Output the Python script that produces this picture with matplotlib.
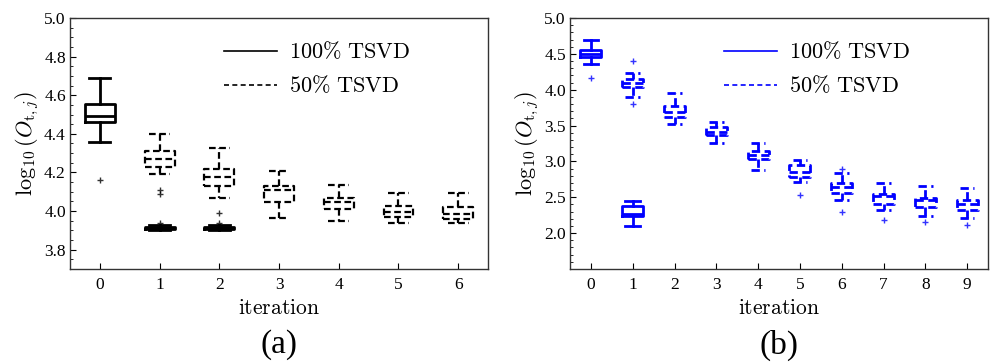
import matplotlib
matplotlib.use("Agg")
import matplotlib.pyplot as plt
from matplotlib.lines import Line2D
from matplotlib.ticker import MultipleLocator, FormatStrFormatter

plt.rcParams["font.family"] = ["Liberation Serif", "DejaVu Serif"]
plt.rcParams["mathtext.fontset"] = "cm"

# ---- panel (a): box statistics per iteration ----
a_full_pos = [0, 1, 2]
a_full_lo = [4.36, 3.900, 3.900]
a_full_q1 = [4.46, 3.908, 3.908]
a_full_med = [4.49, 3.914, 3.914]
a_full_q3 = [4.555, 3.920, 3.920]
a_full_hi = [4.69, 3.928, 3.928]
a_full_fliers = [[4.16], [3.94], [3.94]]

a_half_pos = [1, 2, 3, 4, 5, 6]
a_half_lo = [4.19, 4.07, 3.962, 3.948, 3.939, 3.939]
a_half_q1 = [4.23, 4.128, 4.045, 4.009, 3.967, 3.958]
a_half_med = [4.27, 4.176, 4.11, 4.049, 3.996, 3.983]
a_half_q3 = [4.31, 4.218, 4.132, 4.066, 4.028, 4.019]
a_half_hi = [4.40, 4.325, 4.209, 4.136, 4.096, 4.092]
a_half_fliers = [[4.09, 4.11], [3.99], [], [], [], []]

a_yticks = [3.8, 4.0, 4.2, 4.4, 4.6, 4.8, 5.0]

# ---- panel (b) ----
b_full_pos = [0, 1]
b_full_lo = [4.36, 2.10]
b_full_q1 = [4.455, 2.235]
b_full_med = [4.495, 2.27]
b_full_q3 = [4.555, 2.38]
b_full_hi = [4.695, 2.455]
b_full_fliers = [[4.16], []]

b_half_pos = [1, 2, 3, 4, 5, 6, 7, 8, 9]
b_half_lo = [3.90, 3.52, 3.26, 2.876, 2.713, 2.456, 2.326, 2.246, 2.214]
b_half_q1 = [4.034, 3.62, 3.365, 3.04, 2.783, 2.556, 2.41, 2.36, 2.326]
b_half_med = [4.09, 3.69, 3.41, 3.09, 2.853, 2.64, 2.52, 2.456, 2.40]
b_half_q3 = [4.146, 3.77, 3.48, 3.143, 2.956, 2.695, 2.55, 2.494, 2.466]
b_half_hi = [4.24, 3.96, 3.553, 3.256, 3.016, 2.84, 2.70, 2.652, 2.634]
b_half_fliers = [[4.40, 3.80], [], [], [], [2.53], [2.90, 2.29], [2.19], [2.16], [2.12]]

b_yticks = [2.0, 2.5, 3.0, 3.5, 4.0, 4.5, 5.0]

legend_labels = [r"$\mathrm{100\%\ TSVD}$", r"$\mathrm{50\%\ TSVD}$"]


def make_stats(lo, q1, med, q3, hi, fliers):
    return [
        dict(whislo=lo[i], q1=q1[i], med=med[i], q3=q3[i], whishi=hi[i], fliers=fliers[i])
        for i in range(len(lo))
    ]


def draw_boxes(ax, stats, pos, color, ls, lw):
    line = dict(color=color, lw=lw, ls=ls)
    ax.bxp(
        stats,
        positions=pos,
        widths=0.5,
        capwidths=0.35,
        boxprops=line,
        whiskerprops=line,
        capprops=line,
        medianprops=line,
        flierprops=dict(marker="+", markeredgecolor=color, markersize=5, markeredgewidth=1.0, alpha=0.8),
        manage_ticks=False,
    )


def style_axes(ax, xmax, ylim, yticks, minor):
    ax.set_xlim(-0.5, xmax + 0.5)
    ax.set_ylim(*ylim)
    ax.set_xticks(range(xmax + 1))
    ax.set_yticks(yticks)
    ax.yaxis.set_minor_locator(MultipleLocator(minor))
    ax.yaxis.set_major_formatter(FormatStrFormatter("%.1f"))
    ax.tick_params(which="both", direction="in", top=False, right=False, labelsize=12.5)
    ax.tick_params(which="major", length=4)
    ax.tick_params(which="minor", length=2.5)
    ax.tick_params(axis="x", pad=6)
    ax.tick_params(axis="y", pad=3)
    ax.set_xlabel(r"$\mathrm{iteration}$", fontsize=15.5, labelpad=5)
    ax.set_ylabel(r"$\log_{10}(O_{\mathrm{t},j})$", fontsize=16, labelpad=2)
    for s in ax.spines.values():
        s.set_linewidth(1.0)
        s.set_color("#333333")


def add_legend(ax, color):
    handles = [
        Line2D([], [], color=color, lw=1.2, ls="-"),
        Line2D([], [], color=color, lw=1.2, ls=(0, (3, 2))),
    ]
    ax.legend(
        handles, legend_labels, loc="upper left", bbox_to_anchor=(0.32, 0.985),
        frameon=False, fontsize=16, handlelength=2.4, handletextpad=0.55, labelspacing=0.55,
    )


fig = plt.figure(figsize=(9.9, 3.64), dpi=100)
ax_a = fig.add_axes([70 / 990, 1 - 269 / 364, 418 / 990, 251 / 364])
ax_b = fig.add_axes([570 / 990, 1 - 269 / 364, 418 / 990, 251 / 364])

dash = (0, (3, 1.6))

draw_boxes(ax_a, make_stats(a_full_lo, a_full_q1, a_full_med, a_full_q3, a_full_hi, a_full_fliers),
           a_full_pos, "black", "-", 2.0)
draw_boxes(ax_a, make_stats(a_half_lo, a_half_q1, a_half_med, a_half_q3, a_half_hi, a_half_fliers),
           a_half_pos, "black", dash, 1.6)
style_axes(ax_a, 6, (3.7, 5.0), a_yticks, 0.05)
add_legend(ax_a, "black")

blue = "#0000ff"
draw_boxes(ax_b, make_stats(b_full_lo, b_full_q1, b_full_med, b_full_q3, b_full_hi, b_full_fliers),
           b_full_pos, blue, "-", 2.0)
draw_boxes(ax_b, make_stats(b_half_lo, b_half_q1, b_half_med, b_half_q3, b_half_hi, b_half_fliers),
           b_half_pos, blue, dash, 2.0)
style_axes(ax_b, 9, (1.5, 5.0), b_yticks, 0.1)
add_legend(ax_b, blue)

fig.text(279 / 990, 1 - 345 / 364, "(a)", ha="center", va="center", fontsize=24)
fig.text(779 / 990, 1 - 345 / 364, "(b)", ha="center", va="center", fontsize=24)

fig.savefig("out.png", dpi=100)
